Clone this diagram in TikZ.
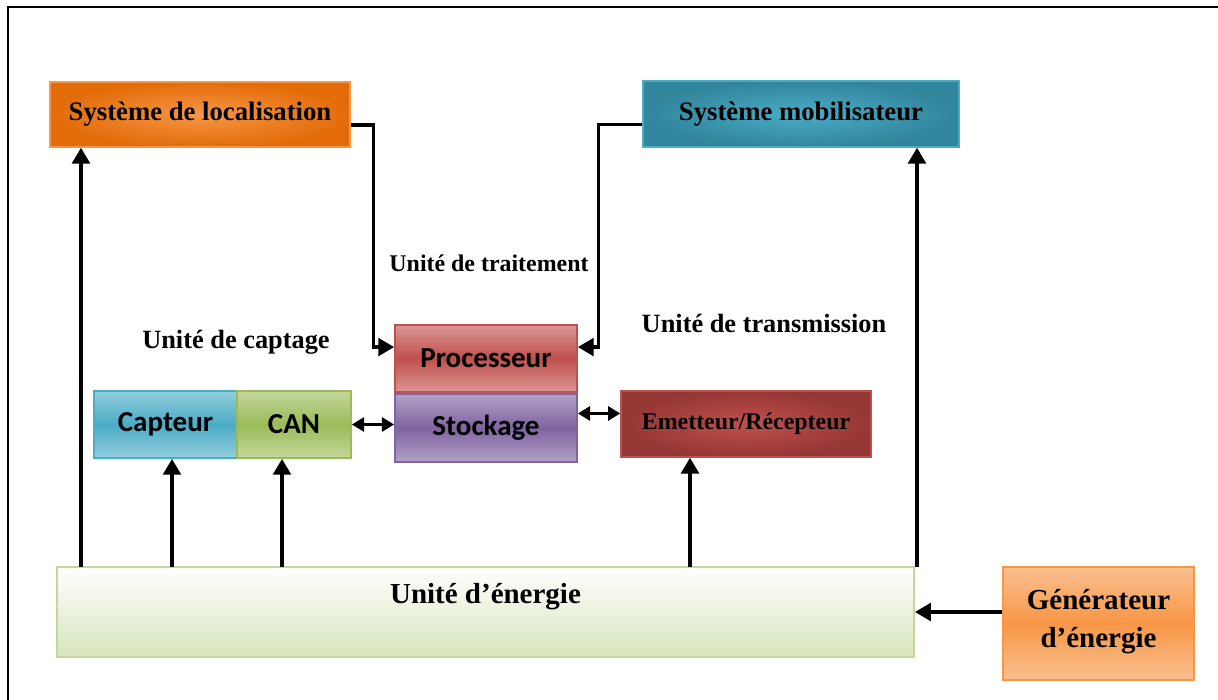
\documentclass[tikz,border=0pt]{standalone}
\usepackage{fontspec}
\setmainfont{Liberation Serif}
\newfontfamily\calib{Carlito}
\usepackage{xcolor}
\usetikzlibrary{arrows.meta,positioning}
\definecolor{orgdark}{HTML}{E36C09}
\definecolor{orglight}{HTML}{F79646}
\definecolor{orgpale}{HTML}{FAC090}
\definecolor{tealdark}{HTML}{31859C}
\definecolor{teallight}{HTML}{4BACC6}
\definecolor{bluepale}{HTML}{92CDDC}
\definecolor{redmid}{HTML}{C0504D}
\definecolor{redpale}{HTML}{DA9694}
\definecolor{reddark}{HTML}{953735}
\definecolor{purmid}{HTML}{8064A2}
\definecolor{purpale}{HTML}{B1A0C7}
\definecolor{grnmid}{HTML}{9BBB59}
\definecolor{grnpale}{HTML}{C4D79B}
\definecolor{grnbot}{HTML}{D7E4BD}

\begin{document}
\begin{tikzpicture}[x=0.02cm,y=-0.02cm,
  sysbox/.style={inner sep=0pt,line width=0.8pt,font=\fontsize{15.2}{18}\selectfont\bfseries},
  cbox/.style={inner sep=0pt,line width=1pt,font=\calib\fontsize{16.5}{19}\selectfont\bfseries},
  ttl/.style={font=\fontsize{15}{18}\selectfont\bfseries},
  arr/.style={-{Triangle[length=9pt,width=10pt]},line width=2pt},
  darr/.style={{Triangle[length=7pt,width=8pt]}-{Triangle[length=7pt,width=8pt]},line width=2pt}]

    \useasboundingbox (0,0) rectangle (1218,700);
    \draw[line width=1.2pt] (8,700) -- (8,7) -- (1218,7);

    \node[sysbox, draw=orglight, outer color=orgdark, inner color=orglight,
      minimum width=6cm, minimum height=1.3cm] (loc) at (200,114.5) {Système de localisation};
    \node[sysbox, draw=teallight, outer color=tealdark, inner color=teallight,
      minimum width=6.32cm, minimum height=1.32cm] (mobil) at (801,114) {Système mobilisateur};

    \node[cbox, draw=redmid, top color=redpale, bottom color=redpale, middle color=redmid,
      minimum width=3.64cm, minimum height=1.34cm] (proc) at (486,358.5) {Processeur};
    \node[cbox, draw=purmid, top color=purpale, bottom color=purpale, middle color=purmid,
      minimum width=3.64cm, minimum height=1.36cm] (stock) at (486,428) {Stockage};
    \node[cbox, draw=teallight, top color=bluepale, bottom color=bluepale, middle color=teallight,
      minimum width=2.86cm, minimum height=1.34cm] (capt) at (165.5,424.5) {Capteur};
    \node[cbox, draw=grnmid, top color=grnpale, bottom color=grnpale, middle color=grnmid,
      minimum width=2.28cm, minimum height=1.34cm] (can) at (294,424.5) {CAN};

    \node[sysbox, draw=redmid, outer color=reddark, inner color=redmid,
      font=\fontsize{13.6}{16}\selectfont\bfseries,
      minimum width=5cm, minimum height=1.32cm] (emet) at (746,424) {Emetteur/Récepteur};

    \node[sysbox, draw=grnpale, line width=1.2pt, top color=white, bottom color=grnbot,
      minimum width=17.14cm, minimum height=1.8cm,
      label={[ttl, font=\fontsize{16.5}{19}\selectfont\bfseries, yshift=0.3cm]center:Unité d’énergie}]
      (energy) at (485.5,612) {};
    \node[sysbox, draw=orglight, line width=1.2pt, top color=orgpale, bottom color=orgpale, middle color=orglight,
      font=\fontsize{16.5}{22}\selectfont\bfseries, align=center, text depth=0.2cm,
      minimum width=3.82cm, minimum height=2.26cm] (gen) at (1098.5,623.5) {Générateur\\d’énergie};

    \node[ttl, font=\fontsize{13.6}{16}\selectfont\bfseries] (ltrait) at (489,263) {Unité de traitement};
    \node[ttl] (lcapt) at (236,342) {Unité de captage};
    \node[ttl] (ltrans) at (764,323) {Unité de transmission};

    \draw[arr] ([yshift=-6pt]loc.east) -- ++(23,0) |- ([yshift=6.5pt]proc.west);
    \draw[arr] ([yshift=-6pt]mobil.west) -- ++(-44,0) |- ([yshift=6.5pt]proc.east);

    \draw[darr] (can.east) -- (can.east -| stock.west);
    \draw[darr] ([yshift=6pt]emet.west -| stock.east) -- ([yshift=6pt]emet.west);

    \coordinate (e1) at (81,567);
    \coordinate (e2) at (172,567);
    \coordinate (e3) at (282,567);
    \coordinate (e4) at (690,567);
    \coordinate (e5) at (917,567);
    \draw[arr] (e1) -- (e1 |- loc.south);
    \draw[arr] (e2) -- (e2 |- capt.south);
    \draw[arr] (e3) -- (e3 |- can.south);
    \draw[arr] (e4) -- (e4 |- emet.south);
    \draw[arr] (e5) -- (e5 |- mobil.south);

    \draw[arr] (gen.west |- energy.east) -- (energy.east);

\end{tikzpicture}
\end{document}
